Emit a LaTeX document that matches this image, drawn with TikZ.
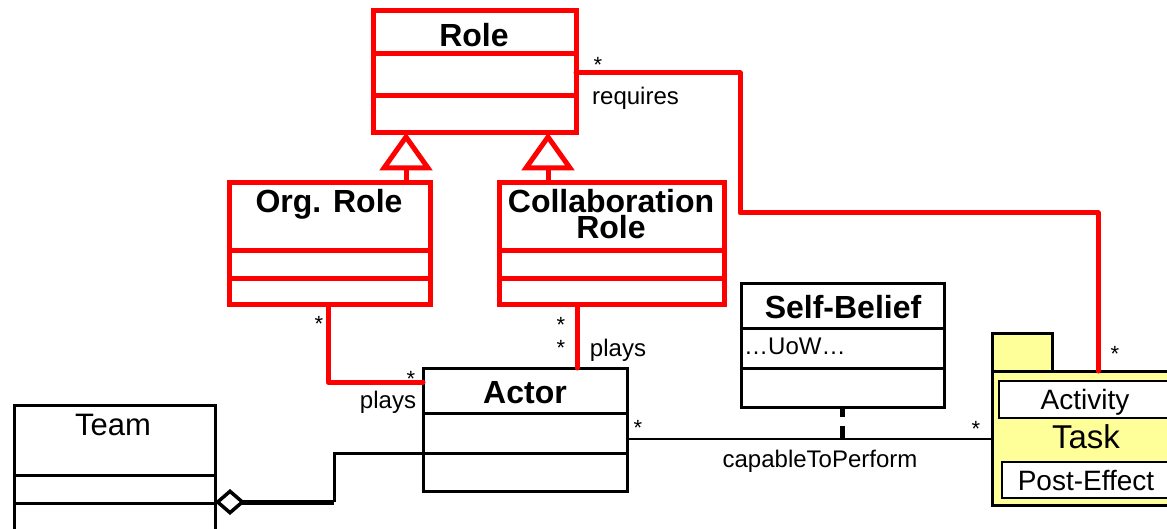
\documentclass[tikz,border=0pt]{standalone}
\usepackage{fontspec}
\setmainfont{Liberation Sans}
\usetikzlibrary{arrows.meta}
\definecolor{rolered}{RGB}{255,0,0}
\definecolor{pkgyellow}{RGB}{255,255,153}
\tikzset{
  redbox/.style={draw=rolered, line width=5pt, inner sep=0pt, outer sep=0pt, anchor=north west},
  blkbox/.style={draw=black, line width=3pt, inner sep=0pt, outer sep=0pt, anchor=north west},
  redline/.style={draw=rolered, line width=5pt, line join=round, line cap=round},
  reddiv/.style={draw=rolered, line width=5pt},
  blkline/.style={draw=black, line width=3pt},
  title/.style={font=\fontsize{32}{26}\selectfont\bfseries, inner sep=0pt, anchor=base},
  ptitle/.style={font=\fontsize{31}{34}\selectfont, inner sep=0pt, anchor=base},
  lbl/.style={font=\fontsize{24}{28}\selectfont, inner sep=0pt, anchor=base},
  mult/.style={font=\fontsize{22}{26}\selectfont, inner sep=0pt, anchor=base},
  gentri/.style={draw=rolered, line width=5pt, line join=miter, fill=white},
}
\begin{document}
\begin{tikzpicture}[x=1pt, y=-1pt]
\useasboundingbox (0,0) rectangle (1167,529);
\clip (0,0) rectangle (1167,529);

% ---- role hierarchy (red) ----
\node[redbox, minimum width=203pt, minimum height=122pt] (role) at (373,11) {};
\draw[reddiv] (role.west |- 0,54) -- (role.east |- 0,54);
\draw[reddiv] (role.west |- 0,96) -- (role.east |- 0,96);
\node[title] (roletitle) at (474,47) {Role};

\node[redbox, minimum width=201pt, minimum height=122pt] (orgrole) at (229,183) {};
\draw[reddiv] (orgrole.west |- 0,251) -- (orgrole.east |- 0,251);
\draw[reddiv] (orgrole.west |- 0,279) -- (orgrole.east |- 0,279);
\node[title] (orgtitle) at (329,213) {Org. Role};

\node[redbox, minimum width=225pt, minimum height=122pt] (collab) at (499,183) {};
\draw[reddiv] (collab.west |- 0,251) -- (collab.east |- 0,251);
\draw[reddiv] (collab.west |- 0,279) -- (collab.east |- 0,279);
\node[title, align=center] (collabtitle) at (611,239) {Collaboration\\Role};

% generalizations: stem from the subclass up to an open triangle under Role
\coordinate (orgtip) at (406,168);
\coordinate (collabtip) at (548,168);
\draw[redline, line cap=butt] (orgrole.north -| orgtip) -- (orgtip);
\draw[redline, line cap=butt] (collab.north -| collabtip) -- (collabtip);
\draw[gentri] (orgtip) +(-22,0) -- +(0,-31) -- +(22,0) -- cycle;
\draw[gentri] (collabtip) +(-22,0) -- +(0,-31) -- +(22,0) -- cycle;

% ---- black classes ----
\node[blkbox, minimum width=204pt, minimum height=123pt] (actor) at (423,368) {};
\draw[blkline] (actor.west |- 0,413) -- (actor.east |- 0,413);
\draw[blkline] (actor.west |- 0,453) -- (actor.east |- 0,453);
\node[title] (actortitle) at (525,403) {Actor};

\node[blkbox, minimum width=203pt, minimum height=123pt] (selfbelief) at (741,284) {};
\draw[blkline] (selfbelief.west |- 0,328) -- (selfbelief.east |- 0,328);
\draw[blkline] (selfbelief.west |- 0,368) -- (selfbelief.east |- 0,368);
\node[title] (sbtitle) at (843,318) {Self-Belief};
\node[lbl, anchor=base west] (uow) at (744,354) {…UoW…};

\node[blkbox, minimum width=201pt, minimum height=140pt] (team) at (14,405) {};
\draw[blkline] (team.west |- 0,475) -- (team.east |- 0,475);
\draw[blkline] (team.west |- 0,503) -- (team.east |- 0,503);
\node[ptitle] (teamtitle) at (113,435) {Team};

% ---- Task package ----
\node[blkbox, fill=pkgyellow, minimum width=60pt, minimum height=38pt] (tasktab) at (992,333) {};
\node[blkbox, fill=pkgyellow, minimum width=200pt, minimum height=134pt] (taskbody) at (992,371) {};
\node[blkbox, line width=2.5pt, fill=white, minimum width=190pt, minimum height=37pt] (activity) at (999,381) {};
\node[blkbox, line width=2.5pt, fill=white, minimum width=190pt, minimum height=36pt] (posteffect) at (1002,462) {};
\node[font=\fontsize{28}{30}\selectfont, inner sep=0pt, anchor=base] (acttext) at (1085,409) {Activity};
\node[font=\fontsize{33}{36}\selectfont, inner sep=0pt, anchor=base] (tasktext) at (1086,448) {Task};
\node[font=\fontsize{28}{30}\selectfont, inner sep=0pt, anchor=base] (petext) at (1086,490) {Post-Effect};

% ---- associations ----
\draw[redline] (role.east |- 0,73) -- (740,73) -- (740,213) -- (1098,213) -- (taskbody.north -| 1098,0);
\node[mult] (m1) at (598,73) {*};
\node[lbl, anchor=base west] (requires) at (592,105) {requires};
\node[mult] (m2) at (1115,361) {*};

\draw[redline] (orgrole.south -| 328,0) -- (328,382) -- (actor.west |- 0,382);
\node[mult] (m3) at (319,331) {*};
\node[mult] (m4) at (411,386) {*};
\node[lbl] (plays1) at (388,408) {plays};

\draw[redline] (collab.south -| 577,0) -- (actor.north -| 577,0);
\node[mult] (m5) at (561,332) {*};
\node[mult] (m6) at (561,355) {*};
\node[lbl] (plays2) at (618,356) {plays};

\draw[line width=2.5pt] (actor.east |- 0,439) -- (taskbody.west |- 0,439);
\node[mult] (m7) at (638,435) {*};
\node[mult] (m8) at (976,436) {*};
\node[lbl] (capable) at (820,467) {capableToPerform};
\draw[line width=5pt, dash pattern=on 13pt off 9pt] (842,439) -- (selfbelief.south -| 842,0);

% aggregation Team <>-- Actor
\draw[blkline] (actor.west |- 0,453) -- (334,453) -- (334,502);
\draw[line width=5pt, {Diamond[open, length=30pt, width=26pt, line width=3.5pt]}-] (team.east |- 0,502) -- (334,502);
\end{tikzpicture}
\end{document}
